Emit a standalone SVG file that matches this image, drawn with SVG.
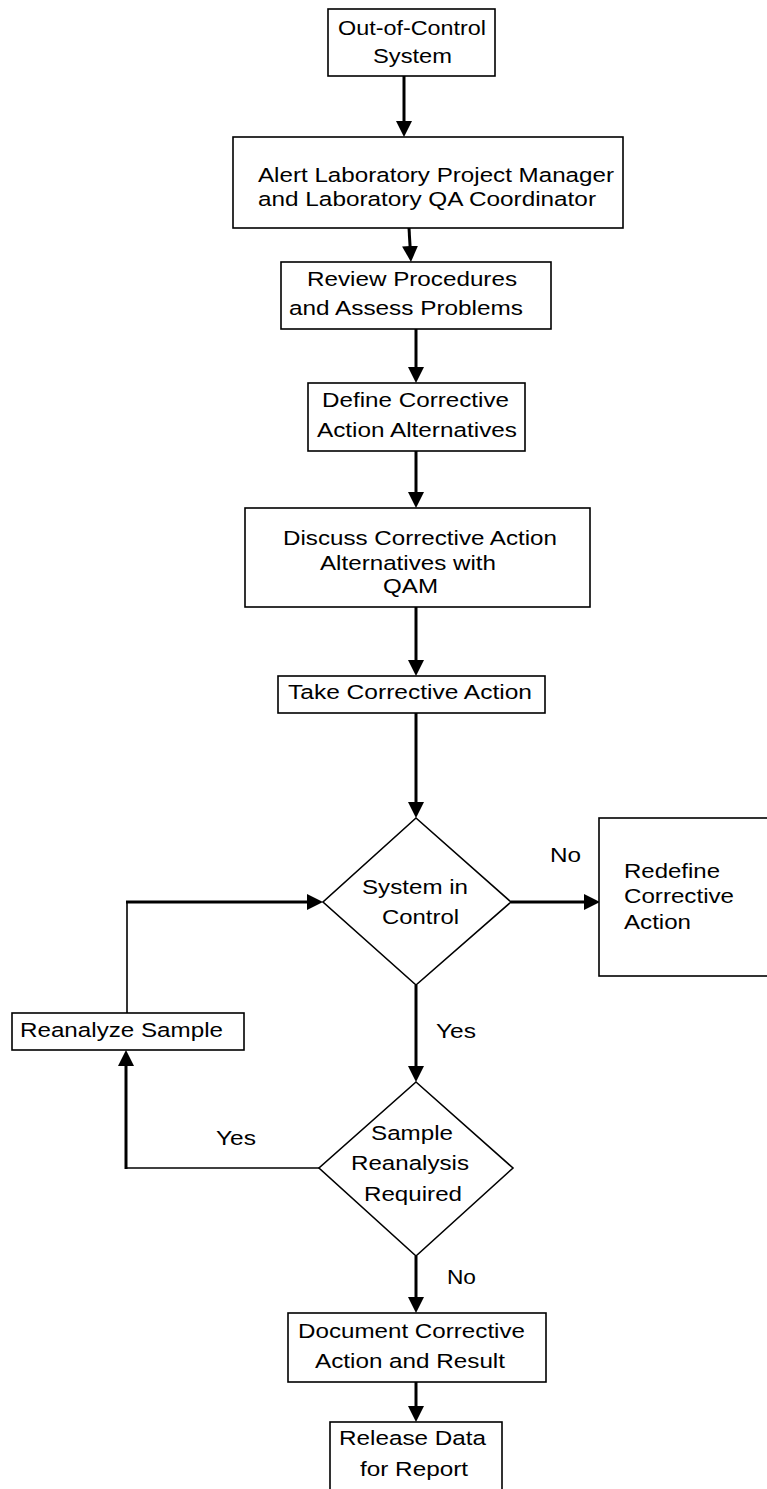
<svg xmlns="http://www.w3.org/2000/svg" width="767" height="1489" viewBox="0 0 767 1489">
<style>
  .box { fill: #fff; stroke: #000; stroke-width: 1.6; }
  .t { font-family: "Liberation Sans", Arial, sans-serif; font-size: 20.5px; fill: #000; }
  .thick { stroke: #000; stroke-width: 3; fill: none; }
  .thin { stroke: #000; stroke-width: 1.6; fill: none; }
</style>
<defs>
  <marker id="ah" viewBox="0 0 16 16" refX="6" refY="8" markerWidth="16" markerHeight="16" markerUnits="userSpaceOnUse" orient="auto">
    <path d="M0,0 L16,8 L0,16 z" fill="#000"/>
  </marker>
</defs>
<rect width="767" height="1489" fill="#fff"/>

<g id="connectors">
  <line class="thick" x1="404" y1="76" x2="404" y2="127" marker-end="url(#ah)"/>
  <line class="thick" x1="409" y1="228" x2="410.4" y2="252" marker-end="url(#ah)"/>
  <line class="thick" x1="416" y1="329" x2="416" y2="373" marker-end="url(#ah)"/>
  <line class="thick" x1="416" y1="451" x2="416" y2="498" marker-end="url(#ah)"/>
  <line class="thick" x1="416" y1="607" x2="416" y2="666" marker-end="url(#ah)"/>
  <line class="thick" x1="416" y1="713" x2="416" y2="808" marker-end="url(#ah)"/>
  <line class="thick" x1="511" y1="902" x2="590" y2="902" marker-end="url(#ah)"/>
  <line class="thin" x1="127" y1="1013" x2="127" y2="902"/>
  <line class="thick" x1="126" y1="902" x2="313" y2="902" marker-end="url(#ah)"/>
  <line class="thick" x1="416" y1="985" x2="416" y2="1072" marker-end="url(#ah)"/>
  <line class="thin" x1="319" y1="1168" x2="126" y2="1168"/>
  <line class="thick" x1="126" y1="1169" x2="126" y2="1060" marker-end="url(#ah)"/>
  <line class="thick" x1="416" y1="1256" x2="416" y2="1303" marker-end="url(#ah)"/>
  <line class="thick" x1="416" y1="1382" x2="416" y2="1412" marker-end="url(#ah)"/>
  <text class="t" x="550" y="862" textLength="31" lengthAdjust="spacingAndGlyphs">No</text>
  <text class="t" x="436" y="1038" textLength="40" lengthAdjust="spacingAndGlyphs">Yes</text>
  <text class="t" x="216" y="1145" textLength="40" lengthAdjust="spacingAndGlyphs">Yes</text>
  <text class="t" x="447" y="1284" textLength="29" lengthAdjust="spacingAndGlyphs">No</text>
</g>

<g id="out-of-control">
  <rect class="box" x="328" y="9" width="167" height="67"/>
  <text class="t" x="338" y="35" textLength="148" lengthAdjust="spacingAndGlyphs">Out-of-Control</text>
  <text class="t" x="373" y="63" textLength="79" lengthAdjust="spacingAndGlyphs">System</text>
</g>

<g id="alert">
  <rect class="box" x="233" y="137" width="390" height="91"/>
  <text class="t" x="258" y="182" textLength="356" lengthAdjust="spacingAndGlyphs">Alert Laboratory Project Manager</text>
  <text class="t" x="258" y="206" textLength="338" lengthAdjust="spacingAndGlyphs">and Laboratory QA Coordinator</text>
</g>

<g id="review">
  <rect class="box" x="281" y="262" width="270" height="67"/>
  <text class="t" x="307" y="286" textLength="210" lengthAdjust="spacingAndGlyphs">Review Procedures</text>
  <text class="t" x="289" y="315" textLength="234" lengthAdjust="spacingAndGlyphs">and Assess Problems</text>
</g>

<g id="define">
  <rect class="box" x="308" y="383" width="217" height="68"/>
  <text class="t" x="322" y="407" textLength="187" lengthAdjust="spacingAndGlyphs">Define Corrective</text>
  <text class="t" x="317" y="437" textLength="200" lengthAdjust="spacingAndGlyphs">Action Alternatives</text>
</g>

<g id="discuss">
  <rect class="box" x="245" y="508" width="345" height="99"/>
  <text class="t" x="283" y="545" textLength="274" lengthAdjust="spacingAndGlyphs">Discuss Corrective Action</text>
  <text class="t" x="320" y="570" textLength="176" lengthAdjust="spacingAndGlyphs">Alternatives with</text>
  <text class="t" x="383" y="593" textLength="55" lengthAdjust="spacingAndGlyphs">QAM</text>
</g>

<g id="take-action">
  <rect class="box" x="278" y="676" width="267" height="37"/>
  <text class="t" x="288" y="699" textLength="244" lengthAdjust="spacingAndGlyphs">Take Corrective Action</text>
</g>

<g id="system-in-control">
  <polygon class="box" points="416,818 511,902 416,985 323,902"/>
  <text class="t" x="362" y="894" textLength="106" lengthAdjust="spacingAndGlyphs">System in</text>
  <text class="t" x="382" y="924" textLength="77" lengthAdjust="spacingAndGlyphs">Control</text>
</g>

<g id="redefine">
  <rect class="box" x="599" y="818" width="180" height="158"/>
  <text class="t" x="624" y="878" textLength="96" lengthAdjust="spacingAndGlyphs">Redefine</text>
  <text class="t" x="624" y="903" textLength="110" lengthAdjust="spacingAndGlyphs">Corrective</text>
  <text class="t" x="624" y="929" textLength="67" lengthAdjust="spacingAndGlyphs">Action</text>
</g>

<g id="reanalyze">
  <rect class="box" x="12" y="1013" width="232" height="37"/>
  <text class="t" x="20" y="1037" textLength="203" lengthAdjust="spacingAndGlyphs">Reanalyze Sample</text>
</g>

<g id="sample-reanalysis">
  <polygon class="box" points="416,1082 513,1168 416,1256 319,1168"/>
  <text class="t" x="371" y="1140" textLength="82" lengthAdjust="spacingAndGlyphs">Sample</text>
  <text class="t" x="351" y="1170" textLength="118" lengthAdjust="spacingAndGlyphs">Reanalysis</text>
  <text class="t" x="364" y="1201" textLength="98" lengthAdjust="spacingAndGlyphs">Required</text>
</g>

<g id="document">
  <rect class="box" x="288" y="1313" width="258" height="69"/>
  <text class="t" x="298" y="1338" textLength="227" lengthAdjust="spacingAndGlyphs">Document Corrective</text>
  <text class="t" x="315" y="1368" textLength="190" lengthAdjust="spacingAndGlyphs">Action and Result</text>
</g>

<g id="release">
  <rect class="box" x="330" y="1422" width="172" height="80"/>
  <text class="t" x="339" y="1445" textLength="147" lengthAdjust="spacingAndGlyphs">Release Data</text>
  <text class="t" x="360" y="1476" textLength="108" lengthAdjust="spacingAndGlyphs">for Report</text>
</g>
</svg>
